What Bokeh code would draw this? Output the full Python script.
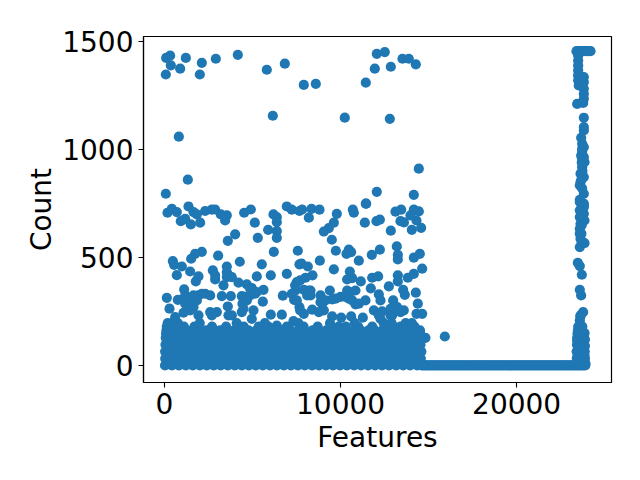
from bokeh.plotting import figure
from bokeh.models import FixedTicker, Range1d
from bokeh.embed import file_html
from bokeh.resources import INLINE

x_ticks = [0, 10000, 20000]
y_ticks = [0, 500, 1000, 1500]
x_title = "Features"
y_title = "Count"

high_x = [94, 321, 359, 75, 889, 1211, 2120, 2006, 2915, 4164, 5811, 6834, 7912, 8594, 11434, 11945, 12058, 12513,
          12855, 13518, 13877, 14275, 6152, 10241, 12798, 814, 1325, 75, 14445, 12058, 14161, 11434]
high_y = [1424, 1434, 1389, 1347, 1374, 1424, 1401, 1347, 1420, 1438, 1369, 1397, 1299, 1304, 1309, 1374, 1443, 1451,
          1383, 1420, 1420, 1394, 1156, 1147, 1142, 1059, 860, 795, 911, 804, 790, 749]

mid_x = [170, 416, 700, 927, 1173, 1495, 1363, 1647, 1836, 2025, 2309, 2688, 2877, 3199, 3445, 3540, 4524, 4903, 5130,
         5887, 6190, 6379, 6379, 6379, 6379, 6947, 7231, 7666, 5300, 4013, 3596, 2120, 1741, 1514, 473, 548, 984, 1457,
         700, 1930, 1779, 3047, 4278, 5527, 6209, 7572, 7666, 3540, 2745, 3540, 2877, 3350, 3824, 4202, 5243, 6038,
         6947, 4675, 4960, 5622, 7515, 7439, 6720, 7363, 1117, 132, 757, 1268, 1457, 1930, 2309, 2593, 3256, 3767,
         4391, 4865, 5149, 5584, 284, 1079, 1647, 1930, 2593, 2972, 3596, 4429, 4391, 5054, 6038, 6663, 7666, 605,
         3634, 4959, 5584, 6379, 7326]
mid_y = [707, 725, 710, 668, 679, 653, 736, 710, 699, 661, 715, 721, 722, 699, 671, 695, 707, 722, 661,
         628, 699, 687, 664, 622, 591, 736, 721, 715, 591, 607, 577, 526, 517, 494, 483, 466, 458, 435,
         418, 412, 389, 508, 480, 468, 526, 531, 468, 458, 440, 432, 398, 371, 409, 383, 412, 417,
         424, 375, 358, 350, 386, 347, 323, 304, 352, 313, 304, 317, 293, 324, 332, 324, 321, 321,
         321, 324, 332, 295, 263, 244, 270, 232, 247, 247, 273, 286, 247, 255, 235, 235, 270, 224,
         232, 216, 178, 185, 205]

mid2_x = [7820, 8350, 8804, 8198, 9788, 9618, 9334, 9050, 9504, 10697, 10754, 11454, 11379, 12041, 12231, 12855,
          13120, 13442, 14161, 14445, 13404, 13600, 13972, 14313, 14048, 14578, 13196, 13253, 13253, 14161, 14502,
          9732, 10470, 10337, 10602, 11038, 11776, 12231, 8823, 9618, 8141, 7782, 10527, 10375, 10659, 11151, 11795,
          12136, 13253, 13253, 13821, 14161, 14635, 12742, 11719, 12174, 12268, 13555, 13650, 14275, 14388, 8406,
          8009, 8198, 8104, 8861, 9391, 9523, 9997, 10375, 10848, 10470, 10848, 11416, 8955, 8388, 9050, 7914, 11890,
          12363, 12988, 13120, 13593, 14313, 14635, 14824, 15922, 9523, 10034, 10602, 11265, 12268, 12836]
mid2_y = [722, 725, 721, 684, 702, 661, 636, 620, 582, 722, 707, 749, 661, 668, 675, 624,
          712, 721, 721, 713, 668, 662, 695, 671, 628, 637, 551, 512, 491, 499, 517,
          531, 536, 517, 525, 485, 512, 536, 485, 445, 458, 471, 435, 398, 404, 389, 406,
          412, 417, 389, 406, 424, 448, 366, 357, 329, 301, 350, 327, 337, 286, 417,
          406, 347, 324, 324, 347, 306, 317, 347, 347, 309, 283, 301, 286, 258, 255, 239, 255,
          250, 301, 255, 255, 239, 239, 128, 134, 227, 221, 227, 221, 216, 232]

extra_x = [1173, 1363, 1647, 2120, 1836, 1173, 1457, 2688, 4486, 4581, 4865, 5243, 4675, 7231, 7515, 7704, 3824, 3540,
           3634, 2877, 7420, 7704, 7914, 8293, 8293, 9145, 9713, 10281, 10659, 11038, 10564, 8861, 12836, 13215, 13404,
           12931, 8766, 12174]
extra_y = [324, 309, 324, 332, 301, 286, 255, 232, 262, 317, 355, 340, 301, 332, 301, 255, 232, 409,
           417, 417, 371, 394, 350, 347, 324, 301, 309, 317, 301, 286, 340, 293, 262, 270, 247,
           232, 247, 232]

row0_x = [30, 420, 815, 1210, 1605, 2010, 2400, 2795, 3190, 3600, 3995, 4390, 4790, 5185, 5580, 5990, 6385, 6780,
          7180, 7575, 7970, 8380, 8775, 9170, 9570, 9965, 10360, 10770, 11165, 11560, 11960, 12355, 12750, 13160,
          13555, 13950, 14350, 14600]
row1_x = [40, 230, 625, 1020, 1410, 1815, 2205, 2600, 3000, 3395, 3790, 4195, 4590, 4985, 5385, 5780, 6175, 6585,
          6980, 7375, 7775, 8170, 8565, 8975, 9370, 9765, 10165, 10560, 10955, 11365, 11760, 12155, 12555, 12950,
          13345, 13755, 14150, 14560, 23420, 23690, 23880]
row2_x = [35, 425, 820, 1215, 1610, 2005, 2405, 2800, 3195, 3605, 4000, 4395, 4785, 5190, 5575, 5995, 6380, 6785,
          7175, 7580, 7965, 8385, 8770, 9175, 9565, 9970, 10355, 10775, 11160, 11565, 11955, 12360, 12745, 13165,
          13550, 13955, 14345, 14590, 23410, 23680, 23870]
row3_x = [55, 240, 630, 1015, 1420, 1810, 2215, 2595, 3010, 3390, 3800, 4190, 4600, 4980, 5395, 5775, 6185, 6580,
          6990, 7370, 7785, 8165, 8575, 8970, 9380, 9760, 10175, 10555, 10965, 11360, 11770, 12150, 12565, 12945,
          13355, 13750, 14160, 14540, 23430, 23660, 23840]
row4_x = [70, 435, 810, 1225, 1600, 2015, 2395, 2810, 3185, 3615, 3990, 4405, 4780, 5200, 5570, 6005, 6375, 6795,
          7170, 7590, 7960, 8395, 8765, 9185, 9560, 9980, 10350, 10785, 11155, 11575, 11950, 12370, 12740, 13175,
          13545, 13965, 14340, 14570, 23440, 23700, 23830]
row5_x = [90, 230, 640, 1005, 1430, 1800, 2225, 2585, 3020, 3380, 3810, 4180, 4610, 4970, 5405, 5765, 6195, 6570,
          7000, 7360, 7795, 8155, 8585, 8960, 9390, 9750, 10185, 10545, 10975, 11350, 11780, 12140, 12575, 12935,
          13365, 13740, 14170, 14520, 23460, 23720]
row6_x = [110, 420, 830, 1240, 1590, 2030, 2380, 2830, 3170, 3630, 3975, 4420, 4770, 5215, 5560, 6020, 6365, 6810,
          7160, 7605, 7950, 8410, 8755, 9200, 9550, 9995, 10340, 10800, 11145, 11590, 11940, 12385, 12730, 13190,
          13535, 13980, 14330, 14510, 23480, 23710]
row7_x = [130, 320, 610, 1100, 1700, 2700, 3500, 4500, 5350, 5900, 6950, 7900, 8700, 9500, 9900, 10300, 11000,
          11800, 12600, 13000, 13400, 13800, 14200, 23500, 23730]
row8_x = [180, 430, 760, 2000, 4100, 5700, 7600, 9400, 10800, 12450, 12900, 13700, 14050]

row_y = [0, 32, 64, 96, 128, 148, 162, 180, 196]

line_x = [14700, 14800, 14900, 15000, 15100, 15200, 15300, 15400, 15500, 15600, 15700, 15800, 15900, 16000, 16100,
          16200, 16300, 16400, 16500, 16600, 16700, 16800, 16900, 17000, 17100, 17200, 17300, 17400, 17500, 17600,
          17700, 17800, 17900, 18000, 18100, 18200, 18300, 18400, 18500, 18600, 18700, 18800, 18900, 19000, 19100,
          19200, 19300, 19400, 19500, 19600, 19700, 19800, 19900, 20000, 20100, 20200, 20300, 20400, 20500, 20600,
          20700, 20800, 20900, 21000, 21100, 21200, 21300, 21400, 21500, 21600, 21700, 21800, 21900, 22000, 22100,
          22200, 22300, 22400, 22500, 22600, 22700, 22800, 22900, 23000, 23100, 23200, 23300, 23400, 23500, 23600,
          23700, 23800, 23900]
line_y = [0] * len(line_x)

side_x = [23401, 23520, 23640, 23780, 23900, 24020, 24197, 24100,
          23496, 23496, 23496, 23496, 23496, 23818, 23496, 23818, 23530, 23723,
          23818, 23818, 23818, 23439, 23780, 23818, 23818, 23818, 23666,
          23723, 23723, 23818, 23666, 23818, 23723, 23856, 23723, 23630, 23818, 23630, 23590,
          23818, 23590, 23818, 23818,
          23590, 23818, 23590, 23818, 23590, 23856, 23630, 23590, 23590, 23630, 23856, 23590,
          23477, 23590, 23704, 23590, 23666, 23780, 23630, 23590, 23590, 23818, 23439, 23818, 23496, 23856, 23439, 23913,
          23723,
          23720, 23700, 23740, 23680, 23720, 23700, 23720, 23700, 23680, 23700, 23650, 23880, 23860, 23880, 23620]
side_y = [1455, 1455, 1455, 1455, 1455, 1455, 1455, 1455,
          1435, 1412, 1389, 1366, 1343, 1335, 1320, 1312, 1296, 1304,
          1281, 1258, 1235, 1211, 1215, 1147, 1104, 1088, 1054,
          1026, 1003, 1011, 971, 965, 957, 941, 918, 888, 872, 849, 834,
          795, 767, 749, 733,
          757, 741, 718, 702, 687, 671, 656, 633, 610, 587, 566, 548,
          475, 460, 420, 350, 324, 247, 232, 208, 185, 131, 116, 100, 77, 46, 39, 8,
          70,
          990, 940, 900, 860, 820, 730, 690, 650, 610, 570, 1330, 120, 150, 90, 225]

xs = high_x + mid_x + mid2_x + extra_x + side_x + line_x
ys = high_y + mid_y + mid2_y + extra_y + side_y + line_y
rows = [row0_x, row1_x, row2_x, row3_x, row4_x, row5_x, row6_x, row7_x, row8_x]
for r, yv in zip(rows, row_y):
    xs = xs + r
    ys = ys + [yv] * len(r)

p = figure(width=640, height=480, output_backend="svg", toolbar_location=None,
           x_range=Range1d(-1193, 25390), y_range=Range1d(-79, 1523),
           min_border_left=143, min_border_right=29, min_border_top=36, min_border_bottom=98)

p.scatter(xs, ys, size=10.2, color="#1f77b4", line_color=None)

p.grid.visible = False
p.outline_line_color = "black"
p.outline_line_width = 1.2
p.background_fill_color = "white"
p.border_fill_color = "white"

for ax, ticks, title in ((p.xaxis[0], x_ticks, x_title), (p.yaxis[0], y_ticks, y_title)):
    ax.ticker = FixedTicker(ticks=ticks)
    ax.minor_tick_line_color = None
    ax.major_tick_in = 0
    ax.major_tick_out = 5
    ax.major_tick_line_color = "black"
    ax.major_tick_line_width = 1.1
    ax.axis_line_color = "black"
    ax.axis_line_width = 1.2
    ax.major_label_text_font = "DejaVu Sans"
    ax.major_label_text_font_size = "28px"
    ax.major_label_text_color = "black"
    ax.axis_label = title
    ax.axis_label_text_font = "DejaVu Sans"
    ax.axis_label_text_font_size = "28px"
    ax.axis_label_text_font_style = "normal"
    ax.axis_label_text_color = "black"
    ax.major_label_standoff = 5
p.xaxis[0].axis_label_standoff = 4
p.yaxis[0].axis_label_standoff = 1
p.yaxis[0].major_label_orientation = "horizontal"

open("out.html", "w").write(file_html(p, INLINE))
